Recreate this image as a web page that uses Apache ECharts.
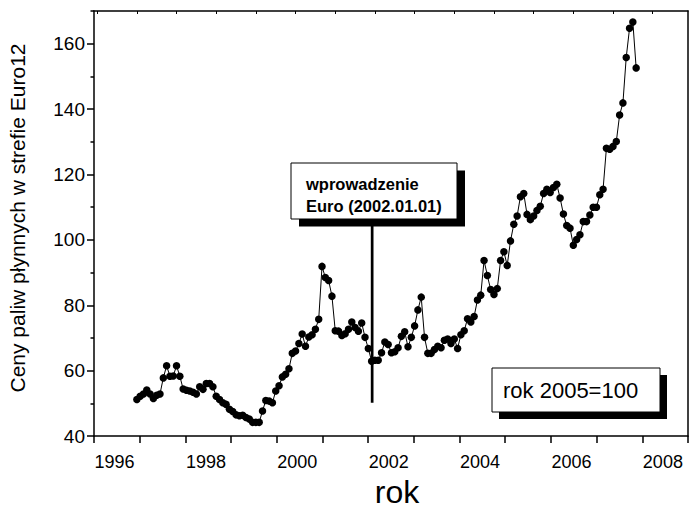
<!DOCTYPE html>
<html>
<head>
<meta charset="utf-8">
<script src="https://cdn.jsdelivr.net/npm/echarts@6.0.0/dist/echarts.min.js"></script>
<style>
  html, body { margin: 0; padding: 0; background: #fff; }
  #chart { width: 690px; height: 513px; }
</style>
</head>
<body>
<div id="chart"></div>
<script>
// Monthly index (2005 = 100), starting January 1996
const START_YEAR = 1996;
const values = [
  51.2, 52.2, 52.9, 54.1, 52.9, 51.5, 52.5, 52.9, 57.8, 61.5, 58.3, 58.4,
  61.5, 58.3, 54.4, 54.0, 53.8, 53.4, 52.9, 55.1, 54.3, 56.1, 56.1, 55.1,
  52.2, 51.2, 50.2, 49.7, 48.2, 47.5, 46.5, 46.2, 46.4, 45.7, 45.2, 44.2,
  44.2, 44.2, 47.7, 50.9, 50.7, 50.2, 53.8, 55.4, 58.1, 58.9, 60.6, 65.3,
  66.0, 68.3, 71.2, 67.5, 70.3, 71.0, 72.7, 75.7, 91.9, 88.5, 87.6, 82.8,
  72.2, 72.1, 70.8, 71.3, 72.7, 74.9, 73.2, 72.1, 74.6, 70.2, 66.8, 62.9,
  63.2, 63.2, 65.5, 68.8, 68.0, 65.5, 65.8, 67.0, 70.5, 71.9, 67.3, 70.2,
  73.7, 78.6, 82.5, 70.2, 65.3, 65.3, 66.5, 67.5, 67.0, 69.3, 69.7, 68.3,
  69.7, 66.8, 71.0, 72.2, 75.9, 74.9, 76.6, 81.6, 83.1, 93.7, 89.1, 84.8,
  83.3, 85.1, 93.7, 96.4, 92.2, 99.7, 104.8, 107.3, 113.2, 114.2, 107.8, 106.2,
  107.3, 109.0, 110.3, 114.2, 115.5, 114.5, 116.0, 117.0, 112.8, 107.9, 104.4, 103.6,
  98.4, 100.1, 101.6, 105.6, 105.6, 107.6, 110.0, 110.0, 113.8, 115.5, 128.0, 127.7,
  128.6, 130.1, 138.2, 141.9, 155.8, 164.7, 166.6, 152.6
];
const monthTimes = values.map((v, i) => START_YEAR + i / 12);

// Axis ticks and labels
const xLabelYears = [1996, 1998, 2000, 2002, 2004, 2006, 2008];
const xTickYears = [1995.55, 1996.55, 1997.55, 1998.55, 1999.55, 2000.55, 2001.55,
                    2002.55, 2003.55, 2004.55, 2005.55, 2006.55, 2007.55, 2008.55];
const topTickYears = [1995, 1996, 1997, 1998, 1999, 2000, 2001, 2002,
                      2003, 2004, 2005, 2006, 2007, 2008, 2009];
const yLabelValues = [40, 60, 80, 100, 120, 140, 160];
const yMinorValues = [50, 70, 90, 110, 130, 150, 170];

// Euro introduction marker
const euroTime = 2001.93;
const euroRange = [50.2, 104.5];

const FONT = '"Liberation Sans", Arial, sans-serif';
const chart = echarts.init(document.getElementById('chart'), null, { renderer: 'svg' });

const seriesData = values.map((v, i) => [monthTimes[i], v]);

chart.setOption({
  animation: false,
  backgroundColor: '#ffffff',
  grid: { left: 94, right: 2, top: 11, bottom: 64, containLabel: false },
  xAxis: [
    {
      type: 'value', position: 'bottom',
      min: 1995.55, max: 2008.55,
      axisLine: { show: true, lineStyle: { color: '#000', width: 1.5 } },
      axisTick: { show: true, inside: false, length: 7, customValues: xTickYears,
                  lineStyle: { color: '#000', width: 1.5 } },
      axisLabel: { show: true, customValues: xLabelYears, margin: 17,
                   color: '#000', fontSize: 18, fontFamily: FONT,
                   formatter: v => String(Math.round(v)) },
      splitLine: { show: false },
      name: 'rok', nameLocation: 'middle', nameGap: 30,
      nameTextStyle: { color: '#000', fontSize: 32, fontFamily: FONT, padding: [0, 0, 0, 12] }
    },
    {
      type: 'value', position: 'top',
      min: 1994.92, max: 2009.89,
      axisLine: { show: true, lineStyle: { color: '#000', width: 1.5 } },
      axisTick: { show: true, inside: true, length: 3, customValues: topTickYears,
                  lineStyle: { color: '#000', width: 1 } },
      axisLabel: { show: false },
      splitLine: { show: false }
    }
  ],
  yAxis: [
    {
      type: 'value', position: 'left',
      min: 40, max: 170,
      axisLine: { show: true, lineStyle: { color: '#000', width: 1.5 } },
      axisTick: { show: true, inside: false, length: 7, customValues: yLabelValues,
                  lineStyle: { color: '#000', width: 1.5 } },
      axisLabel: { show: true, customValues: yLabelValues, margin: 9,
                   color: '#000', fontSize: 19, fontFamily: FONT },
      splitLine: { show: false }
    },
    {
      type: 'value', position: 'left',
      min: 40, max: 170,
      axisLine: { show: false },
      axisTick: { show: true, inside: false, length: 3.5, customValues: yMinorValues,
                  lineStyle: { color: '#000', width: 1.5 } },
      axisLabel: { show: false },
      splitLine: { show: false }
    },
    {
      type: 'value', position: 'right',
      min: 40, max: 170,
      axisLine: { show: true, lineStyle: { color: '#000', width: 1.5 } },
      axisTick: { show: false },
      axisLabel: { show: false },
      splitLine: { show: false }
    }
  ],
  series: [
    {
      type: 'line',
      xAxisIndex: 1, yAxisIndex: 0,
      data: seriesData,
      symbol: 'circle', symbolSize: 7.5,
      itemStyle: { color: '#000' },
      lineStyle: { color: '#000', width: 1 },
      z: 3
    },
    {
      type: 'line',
      xAxisIndex: 1, yAxisIndex: 0,
      data: [[euroTime, euroRange[0]], [euroTime, euroRange[1]]],
      symbol: 'none',
      lineStyle: { color: '#000', width: 2.7 },
      z: 2
    }
  ],
  graphic: [
    { type: 'text', rotation: Math.PI / 2, x: 17, y: 218,
      style: { text: 'Ceny paliw płynnych w strefie Euro12', fill: '#000',
               font: '21px ' + FONT, align: 'center', verticalAlign: 'middle' } },
    // annotation box 1
    { type: 'rect', shape: { x: 299, y: 170.5, width: 166, height: 56 },
      style: { fill: '#000' }, z: 10 },
    { type: 'rect', shape: { x: 291, y: 163, width: 166, height: 56 },
      style: { fill: '#fff', stroke: '#000', lineWidth: 1 }, z: 11 },
    { type: 'text', x: 306, y: 184, z: 12,
      style: { text: 'wprowadzenie', fill: '#000', font: 'bold 16.5px ' + FONT,
               align: 'left', verticalAlign: 'middle' } },
    { type: 'text', x: 306, y: 206, z: 12,
      style: { text: 'Euro (2002.01.01)', fill: '#000', font: 'bold 16.5px ' + FONT,
               align: 'left', verticalAlign: 'middle' } },
    // annotation box 2
    { type: 'rect', shape: { x: 499, y: 375, width: 168, height: 44 },
      style: { fill: '#000' }, z: 10 },
    { type: 'rect', shape: { x: 492, y: 368, width: 168, height: 44 },
      style: { fill: '#fff', stroke: '#000', lineWidth: 1 }, z: 11 },
    { type: 'text', x: 503, y: 390.5, z: 12,
      style: { text: 'rok 2005=100', fill: '#000', font: '22px ' + FONT,
               align: 'left', verticalAlign: 'middle' } }
  ]
});
</script>
</body>
</html>
